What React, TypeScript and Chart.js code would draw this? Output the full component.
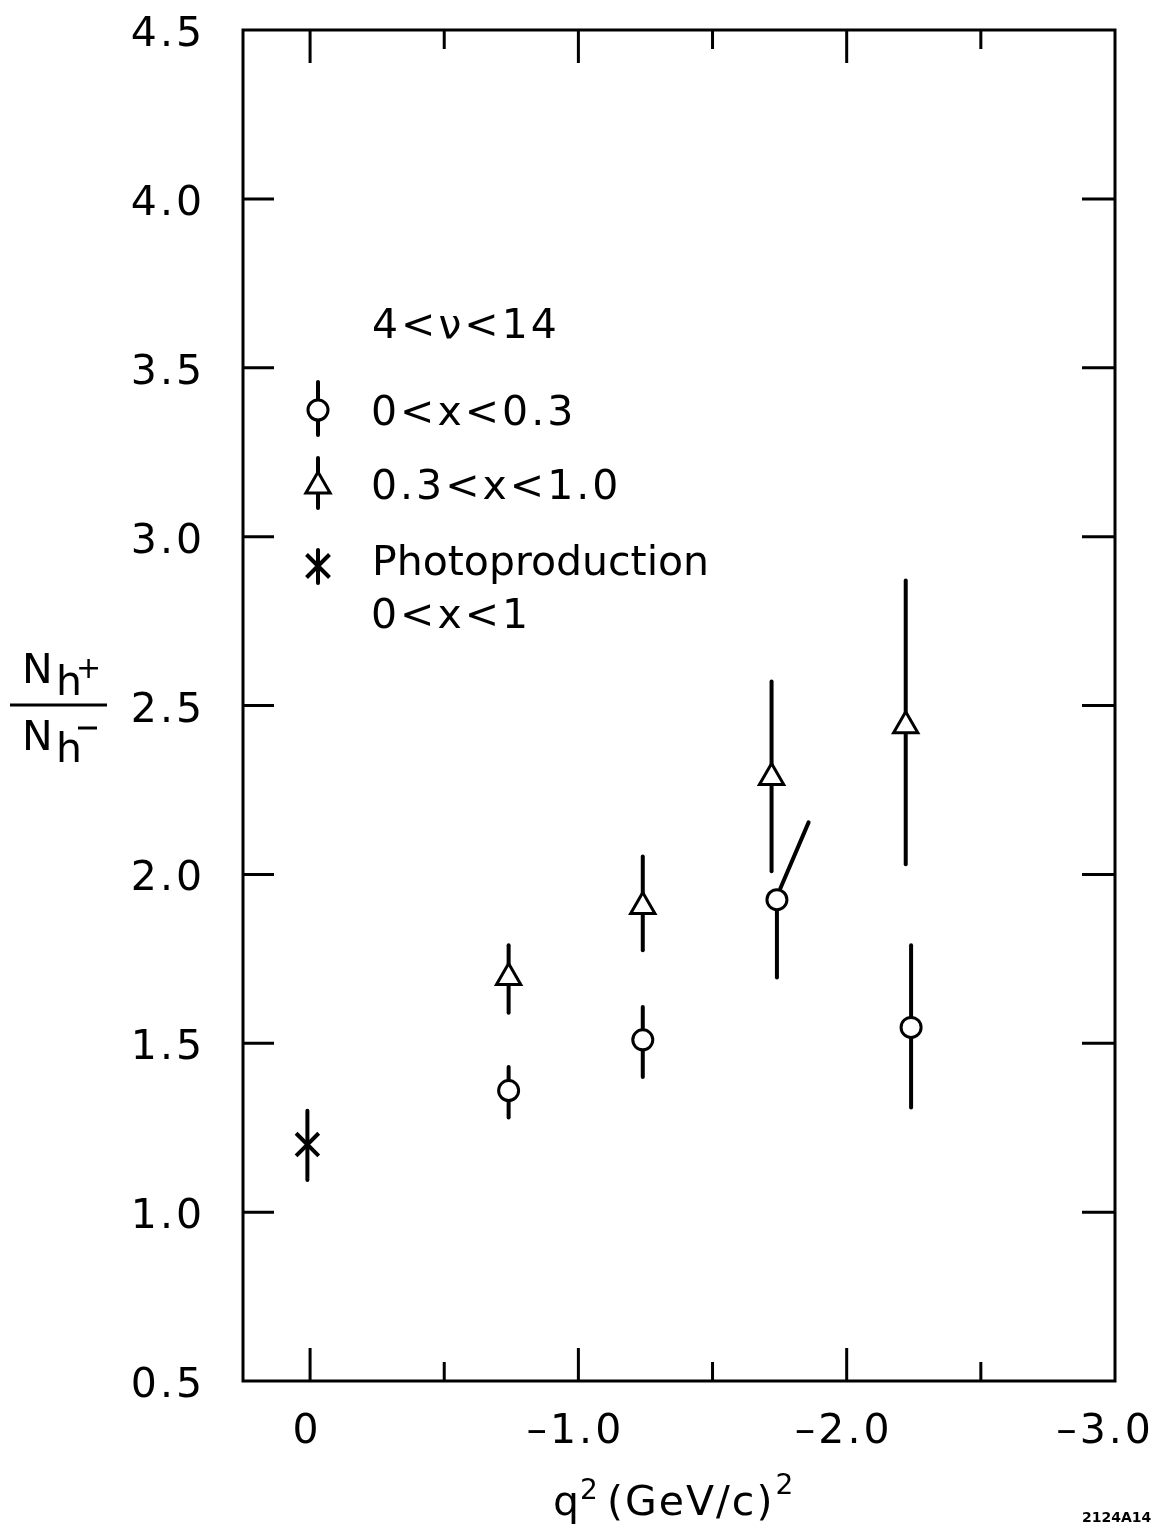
import { useEffect, useRef } from 'react';
import { Chart, registerables } from 'chart.js';

Chart.register(...registerables);

// ---- data ----
const circleQ2 = [-0.74, -1.24, -1.74, -2.24];
const circleRatio = [1.36, 1.51, 1.925, 1.547];
const circleLow = [1.28, 1.40, 1.695, 1.31];
const circleHigh = [1.43, 1.607, 1.925, 1.79];

const slantQ2 = [-1.753, -1.858];
const slantRatio = [1.959, 2.154];

const triQ2 = [-0.74, -1.24, -1.72, -2.22];
const triRatio = [1.695, 1.905, 2.287, 2.44];
const triLow = [1.59, 1.775, 2.009, 2.03];
const triHigh = [1.79, 2.053, 2.571, 2.87];

const photoQ2 = [0.01];
const photoRatio = [1.2];
const photoLow = [1.095];
const photoHigh = [1.30];

const xTickValues = [0, -0.5, -1.0, -1.5, -2.0, -2.5];
const xMajorValues = [0, -1.0, -2.0];
const xLabelValues = [0, -1.0, -2.0, -3.0];
const xLabelTexts = ['0', '\u20131.0', '\u20132.0', '\u20133.0'];
const yTickValues = [1.0, 1.5, 2.0, 2.5, 3.0, 3.5, 4.0];
const yLabelValues = [0.5, 1.0, 1.5, 2.0, 2.5, 3.0, 3.5, 4.0, 4.5];
const yLabelTexts = ['0.5', '1.0', '1.5', '2.0', '2.5', '3.0', '3.5', '4.0', '4.5'];

const FONT = '"DejaVu Sans", "Liberation Sans", sans-serif';

function pts(xs: number[], ys: number[]) {
  return xs.map((x, i) => ({ x, y: ys[i] }));
}

function drawCircle(ctx: CanvasRenderingContext2D, x: number, y: number) {
  ctx.beginPath();
  ctx.arc(x, y, 10, 0, Math.PI * 2);
  ctx.fillStyle = '#fff';
  ctx.fill();
  ctx.lineWidth = 3;
  ctx.strokeStyle = '#000';
  ctx.stroke();
}
function drawTriangle(ctx: CanvasRenderingContext2D, x: number, y: number) {
  const r = 14;
  ctx.beginPath();
  ctx.moveTo(x, y - r);
  ctx.lineTo(x + r * 0.866, y + r / 2);
  ctx.lineTo(x - r * 0.866, y + r / 2);
  ctx.closePath();
  ctx.fillStyle = '#fff';
  ctx.fill();
  ctx.lineWidth = 3;
  ctx.strokeStyle = '#000';
  ctx.lineJoin = 'miter';
  ctx.stroke();
}
function vbar(ctx: CanvasRenderingContext2D, x: number, y1: number, y2: number) {
  ctx.beginPath();
  ctx.moveTo(x, y1);
  ctx.lineTo(x, y2);
  ctx.lineWidth = 4;
  ctx.strokeStyle = '#000';
  ctx.lineCap = 'round';
  ctx.stroke();
  ctx.lineCap = 'butt';
}
function drawStar(ctx: CanvasRenderingContext2D, x: number, y: number) {
  const h = 11.5;
  ctx.beginPath();
  ctx.moveTo(x - h, y - h);
  ctx.lineTo(x + h, y + h);
  ctx.moveTo(x + h, y - h);
  ctx.lineTo(x - h, y + h);
  ctx.lineWidth = 4;
  ctx.strokeStyle = '#000';
  ctx.stroke();
}

function text(ctx: CanvasRenderingContext2D, s: string, x: number, y: number, size: number, align: CanvasTextAlign = 'left', spacing = 0, weight = 'normal') {
  ctx.font = `${weight} ${size}px ${FONT}`;
  (ctx as any).letterSpacing = `${spacing}px`;
  ctx.textAlign = align;
  ctx.textBaseline = 'alphabetic';
  ctx.fillStyle = '#000';
  ctx.fillText(s, x, y);
  const w = ctx.measureText(s).width;
  (ctx as any).letterSpacing = '0px';
  return w;
}

const errorBarPlugin = {
  id: 'errorBars',
  beforeDatasetsDraw(chart: any) {
    const { ctx, scales } = chart;
    const xs = scales.x, ys = scales.y;
    ctx.save();
    const groups: [number[], number[], number[]][] = [
      [circleQ2, circleLow, circleHigh],
      [triQ2, triLow, triHigh],
      [photoQ2, photoLow, photoHigh],
    ];
    groups.forEach(([q, lo, hi]) => {
      q.forEach((v, i) => {
        vbar(ctx, xs.getPixelForValue(v), ys.getPixelForValue(lo[i]), ys.getPixelForValue(hi[i]));
      });
    });
    ctx.restore();
  },
};

const framePlugin = {
  id: 'frame',
  afterDraw(chart: any) {
    const { ctx, chartArea: a, scales } = chart;
    const xs = scales.x, ys = scales.y;
    ctx.save();
    ctx.strokeStyle = '#000';
    ctx.lineWidth = 3;
    ctx.strokeRect(a.left, a.top, a.right - a.left, a.bottom - a.top);
    ctx.lineWidth = 3;
    ctx.beginPath();
    xTickValues.forEach((v) => {
      const px = xs.getPixelForValue(v);
      const len = xMajorValues.includes(v) ? 33 : 19;
      ctx.moveTo(px, a.bottom);
      ctx.lineTo(px, a.bottom - len);
      ctx.moveTo(px, a.top);
      ctx.lineTo(px, a.top + len);
    });
    yTickValues.forEach((v) => {
      const py = ys.getPixelForValue(v);
      ctx.moveTo(a.left, py);
      ctx.lineTo(a.left + 31, py);
      ctx.moveTo(a.right, py);
      ctx.lineTo(a.right - 33, py);
    });
    ctx.stroke();

    // tick labels
    yLabelValues.forEach((v, i) => {
      const py = ys.getPixelForValue(v);
      text(ctx, yLabelTexts[i], a.left - 38, py + 16, 41, 'right', 3);
    });
    xLabelValues.forEach((v, i) => {
      const px = xs.getPixelForValue(v);
      const shift = i === xLabelValues.length - 1 ? -10 : -3;
      text(ctx, xLabelTexts[i], px + shift, a.bottom + 62, 41, 'center', 3);
    });

    // x title
    let cx = 553;
    cx += text(ctx, 'q', cx, 1515, 41, 'left', 0);
    text(ctx, '2', cx + 1, 1499, 28, 'left', 0);
    cx = 607;
    cx += text(ctx, '(GeV/c)', cx, 1515, 41, 'left', 2);
    text(ctx, '2', cx + 1, 1494, 28, 'left', 0);

    // y title (fraction)
    text(ctx, 'N', 22, 683, 41, 'left', 0);
    text(ctx, 'h', 56, 695, 41, 'left', 0);
    text(ctx, '+', 76, 678, 30, 'left', 0);
    ctx.lineWidth = 3;
    ctx.beginPath();
    ctx.moveTo(10, 705);
    ctx.lineTo(107, 705);
    ctx.stroke();
    text(ctx, 'N', 22, 750, 41, 'left', 0);
    text(ctx, 'h', 56, 762, 41, 'left', 0);
    ctx.beginPath();
    ctx.moveTo(78, 728);
    ctx.lineTo(97, 728);
    ctx.stroke();

    // legend
    text(ctx, '4<\u03bd<14', 372, 338, 41, 'left', 3);
    vbar(ctx, 318, 382, 435);
    drawCircle(ctx, 318, 410);
    text(ctx, '0<x<0.3', 371, 425, 41, 'left', 3);
    vbar(ctx, 318, 458, 508);
    drawTriangle(ctx, 318, 486);
    text(ctx, '0.3<x<1.0', 371, 499, 41, 'left', 3);
    vbar(ctx, 318, 550, 583);
    drawStar(ctx, 318, 566);
    text(ctx, 'Photoproduction', 372, 575, 41, 'left', 0);
    text(ctx, '0<x<1', 371, 628, 41, 'left', 3);

    text(ctx, '2124A14', 1082, 1522, 14, 'left', 0, 'bold');
    ctx.restore();
  },
};

export default function App() {
  const ref = useRef<HTMLCanvasElement>(null);
  useEffect(() => {
    document.body.style.margin = '0';
    const chart = new Chart(ref.current!, {
      type: 'scatter',
      data: {
        datasets: [
          {
            label: '0<x<0.3',
            data: pts(circleQ2, circleRatio),
            pointStyle: 'circle',
            pointRadius: 10,
            borderWidth: 3,
            borderColor: '#000',
            backgroundColor: '#fff',
            order: 1,
          },
          {
            label: '0.3<x<1.0',
            data: pts(triQ2, triRatio),
            pointStyle: 'triangle',
            pointRadius: 14,
            borderWidth: 3,
            borderColor: '#000',
            backgroundColor: '#fff',
            order: 1,
          },
          {
            label: 'Photoproduction',
            data: pts(photoQ2, photoRatio),
            pointStyle: 'crossRot',
            pointRadius: 16,
            borderWidth: 4,
            borderColor: '#000',
            backgroundColor: '#000',
            order: 1,
          },
          {
            type: 'line',
            label: 'slant',
            data: pts(slantQ2, slantRatio),
            showLine: true,
            borderColor: '#000',
            borderWidth: 4,
            pointRadius: 0,
            borderCapStyle: 'round',
            fill: false,
            order: 5,
          } as any,
        ],
      },
      options: {
        responsive: false,
        devicePixelRatio: 1,
        animation: false,
        layout: { padding: { left: 243, right: 42, top: 30, bottom: 151 } },
        plugins: { legend: { display: false }, tooltip: { enabled: false } },
        scales: {
          x: { type: 'linear', min: -3.0, max: 0.25, reverse: true, display: false },
          y: { type: 'linear', min: 0.5, max: 4.5, display: false },
        },
      },
      plugins: [errorBarPlugin, framePlugin],
    });
    return () => chart.destroy();
  }, []);
  return <canvas ref={ref} width={1157} height={1532} style={{ display: 'block', width: 1157, height: 1532 }} />;
}
